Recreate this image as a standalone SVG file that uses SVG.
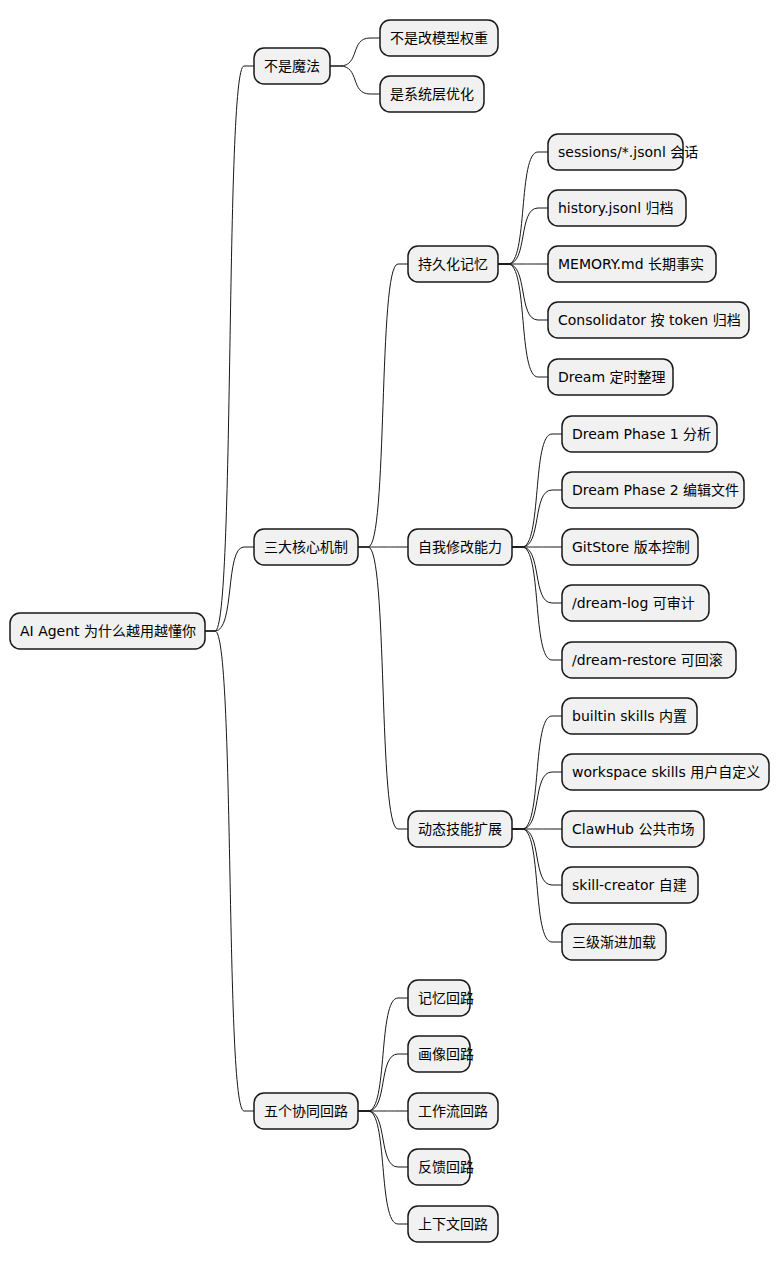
<svg xmlns="http://www.w3.org/2000/svg" width="779" height="1263" viewBox="0 0 779 1263">
<style>
.n rect{fill:#f1f1f1;stroke:#181818;stroke-width:1.5}
.n text{font-family:"Lucida Grande","DejaVu Sans","Noto Sans CJK SC",sans-serif;font-size:14px;fill:#000}
.c path{fill:none;stroke:#181818;stroke-width:1}
</style>
<rect width="779" height="1263" fill="#fff"/>
<g class="c">
<path d="M205,631 h10 C235,631 225,66 244,66 h10"/>
<path d="M205,631 h10 C235,631 225,547 244,547 h10"/>
<path d="M205,631 h10 C235,631 225,1111 244,1111 h10"/>
<path d="M330,66 h10 C360,66 350,38 370,38 h10"/>
<path d="M330,66 h10 C360,66 350,94 370,94 h10"/>
<path d="M358,547 h10 C388,547 378,264 398,264 h10"/>
<path d="M358,547 h10 C388,547 378,547 398,547 h10"/>
<path d="M358,547 h10 C388,547 378,829 398,829 h10"/>
<path d="M498,264 h10 C528,264 518,152 538,152 h10"/>
<path d="M498,264 h10 C528,264 518,208 538,208 h10"/>
<path d="M498,264 h10 C528,264 518,264 538,264 h10"/>
<path d="M498,264 h10 C528,264 518,320 538,320 h10"/>
<path d="M498,264 h10 C528,264 518,377 538,377 h10"/>
<path d="M512,547 h10 C542,547 532,434 552,434 h10"/>
<path d="M512,547 h10 C542,547 532,490 552,490 h10"/>
<path d="M512,547 h10 C542,547 532,547 552,547 h10"/>
<path d="M512,547 h10 C542,547 532,603 552,603 h10"/>
<path d="M512,547 h10 C542,547 532,660 552,660 h10"/>
<path d="M512,829 h10 C542,829 532,716 552,716 h10"/>
<path d="M512,829 h10 C542,829 532,772 552,772 h10"/>
<path d="M512,829 h10 C542,829 532,829 552,829 h10"/>
<path d="M512,829 h10 C542,829 532,885 552,885 h10"/>
<path d="M512,829 h10 C542,829 532,942 552,942 h10"/>
<path d="M358,1111 h10 C388,1111 378,998 398,998 h10"/>
<path d="M358,1111 h10 C388,1111 378,1054 398,1054 h10"/>
<path d="M358,1111 h10 C388,1111 378,1111 398,1111 h10"/>
<path d="M358,1111 h10 C388,1111 378,1167 398,1167 h10"/>
<path d="M358,1111 h10 C388,1111 378,1224 398,1224 h10"/>
</g>
<g id="root" class="n"><rect x="10" y="613" width="195" height="36" rx="10"/><text x="20" y="636">AI Agent 为什么越用越懂你</text></g>
<g id="n1" class="n"><rect x="254" y="48" width="76" height="36" rx="10"/><text x="264" y="71">不是魔法</text></g>
<g id="n1a" class="n"><rect x="380" y="20" width="118" height="36" rx="10"/><text x="390" y="43">不是改模型权重</text></g>
<g id="n1b" class="n"><rect x="380" y="76" width="104" height="36" rx="10"/><text x="390" y="99">是系统层优化</text></g>
<g id="n2" class="n"><rect x="254" y="529" width="104" height="36" rx="10"/><text x="264" y="552">三大核心机制</text></g>
<g id="n21" class="n"><rect x="408" y="246" width="90" height="36" rx="10"/><text x="418" y="269">持久化记忆</text></g>
<g id="n211" class="n"><rect x="548" y="134" width="135" height="36" rx="10"/><text x="558" y="157">sessions/*.jsonl 会话</text></g>
<g id="n212" class="n"><rect x="548" y="190" width="138" height="36" rx="10"/><text x="558" y="213">history.jsonl 归档</text></g>
<g id="n213" class="n"><rect x="548" y="246" width="168" height="36" rx="10"/><text x="558" y="269">MEMORY.md 长期事实</text></g>
<g id="n214" class="n"><rect x="548" y="302" width="201" height="36" rx="10"/><text x="558" y="325">Consolidator 按 token 归档</text></g>
<g id="n215" class="n"><rect x="548" y="359" width="125" height="36" rx="10"/><text x="558" y="382">Dream 定时整理</text></g>
<g id="n22" class="n"><rect x="408" y="529" width="104" height="36" rx="10"/><text x="418" y="552">自我修改能力</text></g>
<g id="n221" class="n"><rect x="562" y="416" width="155" height="36" rx="10"/><text x="572" y="439">Dream Phase 1 分析</text></g>
<g id="n222" class="n"><rect x="562" y="472" width="182" height="36" rx="10"/><text x="572" y="495">Dream Phase 2 编辑文件</text></g>
<g id="n223" class="n"><rect x="562" y="529" width="136" height="36" rx="10"/><text x="572" y="552">GitStore 版本控制</text></g>
<g id="n224" class="n"><rect x="562" y="585" width="147" height="36" rx="10"/><text x="572" y="608">/dream-log 可审计</text></g>
<g id="n225" class="n"><rect x="562" y="642" width="174" height="36" rx="10"/><text x="572" y="665">/dream-restore 可回滚</text></g>
<g id="n23" class="n"><rect x="408" y="811" width="104" height="36" rx="10"/><text x="418" y="834">动态技能扩展</text></g>
<g id="n231" class="n"><rect x="562" y="698" width="135" height="36" rx="10"/><text x="572" y="721">builtin skills 内置</text></g>
<g id="n232" class="n"><rect x="562" y="754" width="207" height="36" rx="10"/><text x="572" y="777">workspace skills 用户自定义</text></g>
<g id="n233" class="n"><rect x="562" y="811" width="142" height="36" rx="10"/><text x="572" y="834">ClawHub 公共市场</text></g>
<g id="n234" class="n"><rect x="562" y="867" width="136" height="36" rx="10"/><text x="572" y="890">skill-creator 自建</text></g>
<g id="n235" class="n"><rect x="562" y="924" width="104" height="36" rx="10"/><text x="572" y="947">三级渐进加载</text></g>
<g id="n3" class="n"><rect x="254" y="1093" width="104" height="36" rx="10"/><text x="264" y="1116">五个协同回路</text></g>
<g id="n31" class="n"><rect x="408" y="980" width="62" height="36" rx="10"/><text x="418" y="1003">记忆回路</text></g>
<g id="n32" class="n"><rect x="408" y="1036" width="62" height="36" rx="10"/><text x="418" y="1059">画像回路</text></g>
<g id="n33" class="n"><rect x="408" y="1093" width="90" height="36" rx="10"/><text x="418" y="1116">工作流回路</text></g>
<g id="n34" class="n"><rect x="408" y="1149" width="62" height="36" rx="10"/><text x="418" y="1172">反馈回路</text></g>
<g id="n35" class="n"><rect x="408" y="1206" width="90" height="36" rx="10"/><text x="418" y="1229">上下文回路</text></g>
</svg>
